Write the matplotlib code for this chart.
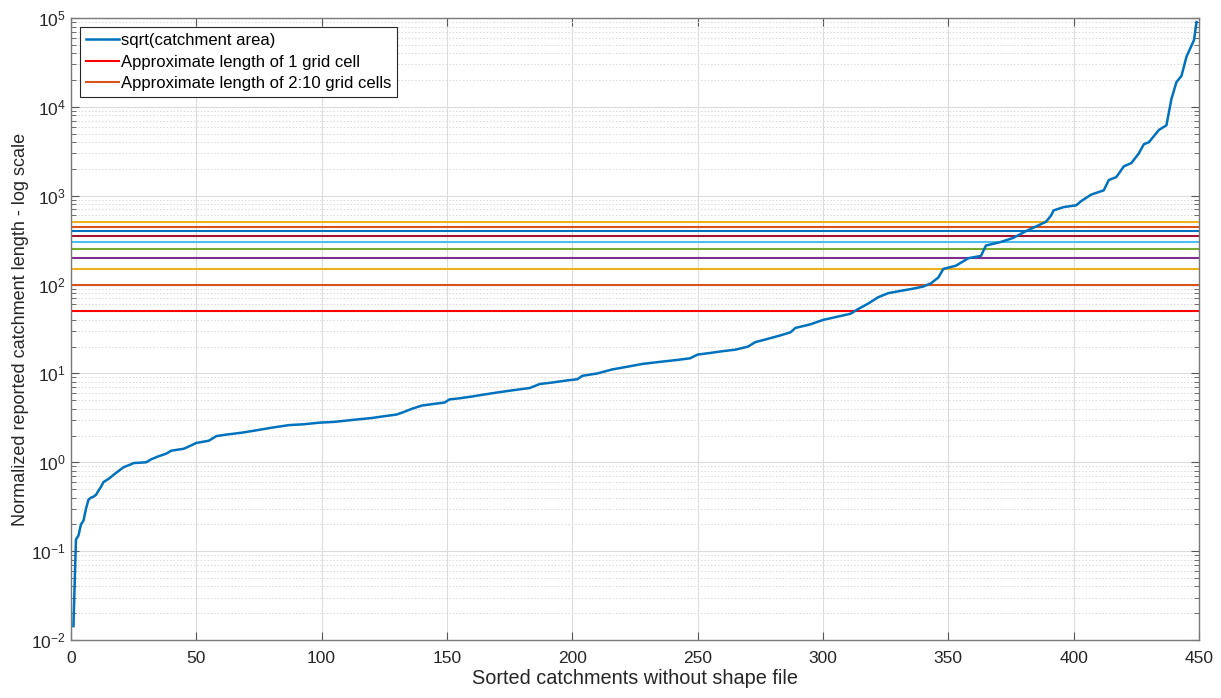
import matplotlib
matplotlib.use('Agg')
from matplotlib import pyplot as plt
from matplotlib.ticker import LogLocator, NullFormatter, MultipleLocator

plt.rcParams['font.family'] = ['Liberation Sans', 'DejaVu Sans']
plt.rcParams['mathtext.default'] = 'regular'
plt.rcParams['axes.unicode_minus'] = False

# sorted catchments: index and sqrt(catchment area) values
catch_idx = [1, 2, 3, 4, 5, 6, 7, 8, 9, 10, 11, 12, 13, 15, 18, 21, 24, 25, 30, 32,
             35, 38, 40, 45, 48, 50, 55, 58, 62, 68, 74, 80, 87, 93, 99, 105, 110, 115,
             120, 125, 130, 133, 136, 140, 145, 149, 151, 155, 160, 165, 170, 176, 183,
             187, 192, 198, 202, 204, 210, 216, 222, 228, 235, 242, 247, 250, 255, 260,
             265, 270, 273, 278, 283, 287, 289, 295, 300, 305, 311, 314, 318, 322, 326,
             331, 336, 340, 343, 346, 348, 353, 358, 363, 365, 371, 376, 381, 386, 389,
             391, 392, 396, 401, 403, 407, 412, 414, 417, 420, 423, 426, 428, 430, 434,
             437, 439, 441, 443, 445, 448, 449]
catch_len = [0.0143, 0.135, 0.15, 0.2, 0.22, 0.3, 0.38, 0.40, 0.41, 0.43, 0.48, 0.53,
             0.6, 0.65, 0.76, 0.88, 0.95, 0.98, 1.0, 1.08, 1.17, 1.25, 1.35, 1.42, 1.55,
             1.65, 1.75, 1.97, 2.05, 2.15, 2.29, 2.45, 2.62, 2.68, 2.79, 2.85, 2.95, 3.05,
             3.15, 3.3, 3.45, 3.7, 4.0, 4.35, 4.55, 4.7, 5.1, 5.25, 5.5, 5.8, 6.1, 6.45,
             6.85, 7.6, 7.9, 8.35, 8.6, 9.4, 10.0, 11.1, 11.9, 12.8, 13.5, 14.2, 14.8,
             16.3, 17.0, 17.8, 18.5, 20.0, 22.5, 24.5, 26.8, 29.0, 32.5, 35.7, 40, 43,
             47, 53, 61, 72, 80, 85, 90, 95, 103, 120, 150, 163, 198, 210, 275, 302, 336,
             400, 465, 510, 600, 684, 745, 780, 870, 1030, 1150, 1500, 1620, 2140, 2330,
             3000, 3800, 4000, 5500, 6200, 12300, 19000, 22300, 36700, 56500, 90000]

# grid cell lengths
one_cell = 50
multi_cells = [100, 150, 200, 250, 300, 350, 400, 450, 500]
cell_colors = ['#D95319', '#EDB120', '#7E2F8E', '#77AC30', '#4DBEEE',
               '#A2142F', '#0072BD', '#D95319', '#EDB120']

fig = plt.figure(figsize=(12.21, 6.98), dpi=100)
ax = fig.add_axes([0.0581, 0.0831, 0.9239, 0.8911])

h1, = ax.plot(catch_idx, catch_len, color='#0072BD', lw=1.8, zorder=5,
              label='sqrt(catchment area)')
h2 = ax.axhline(one_cell, color='#FF0000', lw=1.5, label='Approximate length of 1 grid cell')
h3 = None
for val, c in zip(multi_cells, cell_colors):
    h = ax.axhline(val, color=c, lw=1.5)
    if h3 is None:
        h3 = h

ax.set_yscale('log')
ax.set_xlim(0, 450)
ax.set_ylim(1e-2, 1e5)
ax.xaxis.set_major_locator(MultipleLocator(50))
ax.yaxis.set_major_locator(LogLocator(base=10, numticks=10))
ax.yaxis.set_minor_locator(LogLocator(base=10, subs=range(2, 10), numticks=20))
ax.yaxis.set_minor_formatter(NullFormatter())

ax.grid(True, which='major', color='#dcdcdc', lw=0.8, ls='-')
ax.grid(True, which='minor', axis='y', color='#dadada', lw=0.7, ls=(0, (1.5, 2)))
ax.set_axisbelow(True)

ax.tick_params(which='both', direction='in', top=True, right=True,
               color='#555555', labelcolor='#262626', labelsize=12.5)
ax.tick_params(which='major', length=6)
ax.tick_params(which='minor', length=3.5)
ax.tick_params(axis='x', pad=8)
for s in ax.spines.values():
    s.set_color('#7a7a7a')
    s.set_linewidth(1.0)

ax.set_xlabel('Sorted catchments without shape file', fontsize=14.3, color='#262626', labelpad=2)
ax.set_ylabel('Normalized reported catchment length - log scale', fontsize=13,
              color='#262626', labelpad=2)

leg = ax.legend([h1, h2, h3],
                ['sqrt(catchment area)', 'Approximate length of 1 grid cell',
                 'Approximate length of 2:10 grid cells'],
                loc='upper left', bbox_to_anchor=(0.008, 0.985), fontsize=12,
                fancybox=False, framealpha=1, edgecolor='#262626',
                handlelength=2.0, handletextpad=0.1, labelspacing=0.38,
                borderpad=0.35, borderaxespad=0)
leg.get_frame().set_linewidth(0.8)

plt.savefig('out.png', dpi=100)
